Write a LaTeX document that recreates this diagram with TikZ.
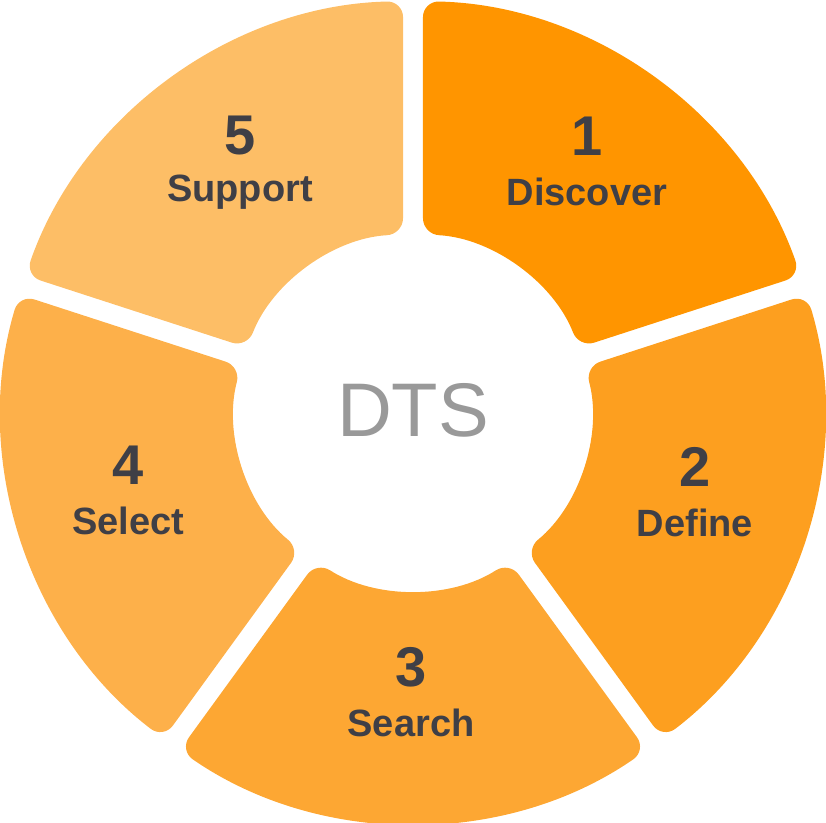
\documentclass[tikz,border=0pt]{standalone}
\usepackage{fontspec}
\setmainfont{Liberation Sans}
\definecolor{segA}{HTML}{FF9500}
\definecolor{segB}{HTML}{FD9F1F}
\definecolor{segC}{HTML}{FDA733}
\definecolor{segD}{HTML}{FDB04A}
\definecolor{segE}{HTML}{FDBE66}
\definecolor{labelgray}{HTML}{3F3F46}
\begin{document}
\begin{tikzpicture}[x=1pt, y=1pt,
  num/.style={text=labelgray, font=\fontsize{56}{56}\selectfont\bfseries},
  steplabel/.style={text=labelgray, font=\fontsize{38}{38}\selectfont\bfseries}]
\useasboundingbox (-413,-410) rectangle (413,412);

% the five segments: start boundary / end boundary / colour
\foreach \a/\b/\col in {18/90/segA, -54/18/segB, -126/-54/segC, -198/-126/segD, -270/-198/segE} {
% outer and inner radius, half gap 10
\fill[\col, rounded corners=16]
  (\a+1.39:411) arc[start angle=\a+1.39, end angle=\b-1.39, radius=411]
  -- (\b-3.22:178) arc[start angle=\b-3.22, end angle=\a+3.22, radius=178]
  -- cycle;
}

% centre label
\node[text=gray!80, font=\fontsize{76}{76}\selectfont] (dts) at (0,2) {DTS};

% step labels
\foreach \x/\y/\n/\name/\txt in {
174/248/1/discover/Discover,
282/-83/2/define/Define,
-2/-283/3/search/Search,
-285/-81/4/select/Select,
-173/248/5/support/Support} {
\node[num] (n\n) at (\x,\y+28) {\n};
\node[steplabel] (\name) at (\x,\y-28) {\txt};
}
\end{tikzpicture}
\end{document}
